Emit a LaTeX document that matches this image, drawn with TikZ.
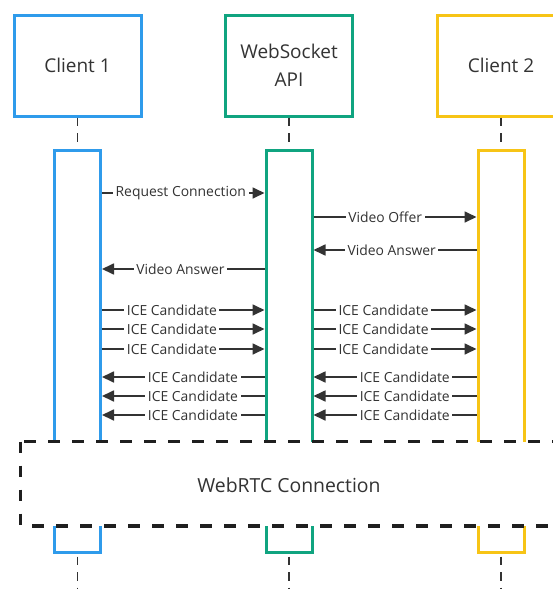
\documentclass[tikz,border=0pt]{standalone}
\usepackage{fontspec}
\setmainfont{Open Sans}
\usetikzlibrary{arrows.meta}
\definecolor{cblue}{RGB}{47,155,235}
\definecolor{cgreen}{RGB}{16,164,128}
\definecolor{cyellow}{RGB}{247,196,22}
\definecolor{ink}{RGB}{51,51,51}
\tikzset{
  actor/.style={draw=#1,line width=3pt,fill=white,minimum width=127pt,minimum height=101pt,
    align=center,font=\fontsize{19}{28}\selectfont,text=ink},
  bar/.style={draw=#1,line width=3pt,fill=white,minimum width=46pt,minimum height=402pt,anchor=north},
  life/.style={draw=ink,line width=1.5pt,dash pattern=on 8.5pt off 7pt},
  msg/.style={draw=ink,line width=1.7pt,-{Triangle[length=12pt,width=11pt]}},
  lbl/.style={fill=white,inner xsep=2.5pt,inner ysep=1pt,font=\fontsize{13.9}{16}\selectfont,text=ink},
  rtcbox/.style={draw=black!88,line width=3.2pt,fill=white,dash pattern=on 11.5pt off 12.5pt}
}

\begin{document}
\begin{tikzpicture}[x=1pt,y=-1pt]
    \clip (0,0) rectangle (553,589);
    \useasboundingbox (0,0) rectangle (553,589);

    \node[actor=cblue] (c1) at (77.5,65.5) {Client 1};
    \node[actor=cgreen] (ws) at (289,65.5) {WebSocket\\API};
    \node[actor=cyellow] (c2) at (501,65.5) {Client 2};

    \node[bar=cblue] (bar1) at (77.5,148.5) {};
    \node[bar=cgreen] (bar2) at (289,148.5) {};
    \node[bar=cyellow] (bar3) at (501,148.5) {};

    \coordinate (end1) at (77.5,589);
    \coordinate (end2) at (289,589);
    \coordinate (end3) at (501,589);

    \draw[life] (c1.south) -- (bar1.north);
    \draw[life] (ws.south) -- (bar2.north);
    \draw[life] (c2.south) -- (bar3.north);
    \draw[life] ([yshift=-3pt]bar1.south) -- (end1);
    \draw[life] ([yshift=-3pt]bar2.south) -- (end2);
    \draw[life] ([yshift=-3pt]bar3.south) -- (end3);

    \draw[msg] (bar1.east |- 0,193) -- node[lbl,pos=0.485] {Request Connection} (bar2.west |- 0,193);
    \draw[msg] (bar2.east |- 0,217) -- node[lbl,pos=0.44] {Video Offer} (bar3.west |- 0,217);
    \draw[msg] (bar3.west |- 0,250) -- node[lbl,pos=0.52] {Video Answer} (bar2.east |- 0,250);
    \draw[msg] (bar2.west |- 0,269) -- node[lbl,pos=0.517] {Video Answer} (bar1.east |- 0,269);

    \draw[msg] (bar1.east |- 0,310) -- node[lbl,pos=0.43] {ICE Candidate} (bar2.west |- 0,310);
    \draw[msg] (bar1.east |- 0,329) -- node[lbl,pos=0.43] {ICE Candidate} (bar2.west |- 0,329);
    \draw[msg] (bar1.east |- 0,349) -- node[lbl,pos=0.43] {ICE Candidate} (bar2.west |- 0,349);
    \draw[msg] (bar2.east |- 0,310) -- node[lbl,pos=0.43] {ICE Candidate} (bar3.west |- 0,310);
    \draw[msg] (bar2.east |- 0,329) -- node[lbl,pos=0.43] {ICE Candidate} (bar3.west |- 0,329);
    \draw[msg] (bar2.east |- 0,349) -- node[lbl,pos=0.43] {ICE Candidate} (bar3.west |- 0,349);

    \draw[msg] (bar2.west |- 0,377) -- node[lbl,pos=0.44] {ICE Candidate} (bar1.east |- 0,377);
    \draw[msg] (bar2.west |- 0,396) -- node[lbl,pos=0.44] {ICE Candidate} (bar1.east |- 0,396);
    \draw[msg] (bar2.west |- 0,415) -- node[lbl,pos=0.44] {ICE Candidate} (bar1.east |- 0,415);
    \draw[msg] (bar3.west |- 0,377) -- node[lbl,pos=0.44] {ICE Candidate} (bar2.east |- 0,377);
    \draw[msg] (bar3.west |- 0,396) -- node[lbl,pos=0.44] {ICE Candidate} (bar2.east |- 0,396);
    \draw[msg] (bar3.west |- 0,415) -- node[lbl,pos=0.44] {ICE Candidate} (bar2.east |- 0,415);

    \draw[rtcbox] (20.7,441.7) rectangle (640,526);
    \node[font=\fontsize{19.4}{24}\selectfont,text=ink,anchor=base] (rtc) at (289,492.5) {WebRTC Connection};
\end{tikzpicture}
\end{document}
